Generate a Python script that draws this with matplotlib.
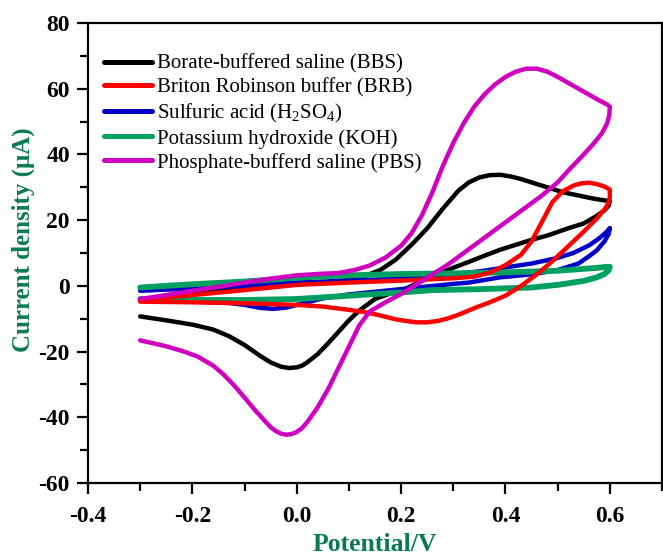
import matplotlib
matplotlib.use("Agg")
import matplotlib.pyplot as plt
from matplotlib.ticker import MultipleLocator, FixedLocator

plt.rcParams['font.family'] = ['Liberation Serif', 'DejaVu Serif']
plt.rcParams['mathtext.fontset'] = 'custom'
plt.rcParams['mathtext.rm'] = 'Liberation Serif'
plt.rcParams['mathtext.it'] = 'Liberation Serif:italic'
plt.rcParams['mathtext.bf'] = 'Liberation Serif:bold'
plt.rcParams['axes.unicode_minus'] = False

# ---------------- data (potential V, current µA) ----------------
labels = ["Borate-buffered saline (BBS)",
          "Briton Robinson buffer (BRB)",
          "Sulfuric acid (H$_2$SO$_4$)",
          "Potassium hydroxide (KOH)",
          "Phosphate-bufferd saline (PBS)"]
colors = ["#000000", "#ff0000", "#0000c8", "#00a060", "#d000c0"]

bbs_fx = [-0.30, -0.25, -0.20, -0.15, -0.10, -0.05, 0.00, 0.05, 0.10, 0.13, 0.16, 0.19, 0.22, 0.25, 0.28, 0.31, 0.33, 0.35, 0.37, 0.39, 0.41, 0.43, 0.45, 0.48, 0.51, 0.54, 0.57, 0.60]
bbs_fy = [-4.5, -3.5, -2.5, -1.6, -0.8, 0.0, 0.6, 1.0, 1.8, 3.0, 4.8, 8.0, 12.5, 17.5, 23.5, 29.0, 31.5, 33.0, 33.7, 33.8, 33.3, 32.5, 31.5, 30.0, 28.5, 27.5, 26.5, 25.8]
bbs_rx = [0.60, 0.598, 0.59, 0.575, 0.55, 0.52, 0.48, 0.45, 0.42, 0.39, 0.36, 0.33, 0.30, 0.27, 0.24, 0.21, 0.18, 0.15, 0.12, 0.10, 0.08, 0.06, 0.04, 0.02, 0.01, 0.00, -0.015, -0.03, -0.05, -0.07, -0.10, -0.13, -0.16, -0.20, -0.25, -0.30]
bbs_ry = [25.8, 24.5, 23.0, 21.3, 19.0, 17.5, 15.3, 14.0, 12.5, 11.0, 9.2, 7.3, 5.5, 3.5, 1.5, -0.8, -2.3, -4.0, -7.5, -10.5, -14.0, -17.5, -20.8, -23.3, -24.3, -24.8, -25.0, -24.6, -23.3, -21.3, -18.0, -15.3, -13.3, -11.8, -10.5, -9.3]

brb_fx = [-0.30, -0.20, -0.10, 0.00, 0.10, 0.20, 0.30, 0.34, 0.37, 0.40, 0.43, 0.45, 0.47, 0.49, 0.51, 0.53, 0.545, 0.56, 0.575, 0.59, 0.60]
brb_fy = [-4.3, -2.8, -1.3, 0.3, 1.0, 1.6, 2.3, 2.8, 4.0, 6.3, 9.5, 13.5, 19.5, 25.5, 28.8, 30.5, 31.2, 31.4, 31.0, 30.2, 29.3]
brb_rx = [0.60, 0.600, 0.597, 0.59, 0.575, 0.55, 0.52, 0.49, 0.46, 0.43, 0.40, 0.37, 0.34, 0.31, 0.29, 0.27, 0.25, 0.23, 0.21, 0.19, 0.16, 0.13, 0.10, 0.05, 0.00, -0.10, -0.20, -0.30]
brb_ry = [29.3, 27.0, 25.0, 23.3, 20.5, 16.5, 12.0, 7.5, 3.5, 0.0, -3.0, -5.0, -6.8, -8.8, -9.9, -10.7, -11.1, -11.1, -10.7, -10.2, -9.0, -8.0, -7.3, -6.3, -5.8, -5.3, -5.0, -4.8]

h2so4_fx = [-0.30, -0.20, -0.10, 0.00, 0.10, 0.20, 0.30, 0.35, 0.40, 0.45, 0.50, 0.53, 0.56, 0.58, 0.595, 0.60]
h2so4_fy = [-1.5, -0.8, 0.0, 1.0, 1.6, 2.2, 3.6, 4.4, 5.6, 6.8, 8.5, 10.0, 12.3, 14.5, 16.6, 17.6]
h2so4_rx = [0.60, 0.598, 0.59, 0.575, 0.56, 0.54, 0.50, 0.45, 0.39, 0.33, 0.30, 0.20, 0.15, 0.10, 0.05, 0.02, 0.00, -0.02, -0.045, -0.07, -0.10, -0.13, -0.20, -0.30]
h2so4_ry = [17.6, 15.8, 13.6, 10.8, 9.0, 6.8, 4.8, 3.5, 2.6, 1.0, 0.6, -1.0, -1.8, -2.6, -3.8, -5.0, -5.8, -6.6, -7.0, -6.7, -5.8, -5.2, -4.8, -4.3]

koh_fx = [-0.30, -0.20, -0.10, 0.00, 0.10, 0.20, 0.30, 0.40, 0.50, 0.57, 0.595, 0.60]
koh_fy = [-0.5, 0.5, 1.3, 2.5, 3.2, 3.6, 3.8, 4.1, 4.6, 5.4, 5.8, 5.8]
koh_rx = [0.60, 0.598, 0.59, 0.575, 0.55, 0.50, 0.45, 0.35, 0.26, 0.20, 0.10, 0.00, -0.10, -0.20, -0.30]
koh_ry = [5.8, 4.8, 3.6, 2.6, 1.5, 0.3, -0.5, -1.0, -1.3, -2.0, -3.0, -4.0, -4.3, -4.3, -4.0]

pbs_fx = [-0.30, -0.25, -0.20, -0.15, -0.10, -0.05, 0.00, 0.05, 0.08, 0.11, 0.14, 0.17, 0.20, 0.22, 0.24, 0.26, 0.28, 0.30, 0.32, 0.34, 0.36, 0.38, 0.40, 0.42, 0.44, 0.46, 0.48, 0.50, 0.52, 0.54, 0.56, 0.58, 0.595, 0.60]
pbs_fy = [-4.0, -2.8, -1.5, -0.3, 1.0, 2.2, 3.2, 3.7, 3.9, 4.8, 6.2, 8.6, 12.2, 16.0, 21.5, 28.5, 36.5, 43.5, 49.5, 54.5, 58.3, 61.3, 63.6, 65.2, 66.1, 66.1, 65.2, 63.6, 61.8, 60.0, 58.2, 56.4, 55.2, 54.5]
pbs_rx = [0.60, 0.599, 0.595, 0.585, 0.57, 0.55, 0.52, 0.50, 0.47, 0.44, 0.41, 0.38, 0.35, 0.32, 0.29, 0.26, 0.23, 0.20, 0.17, 0.14, 0.12, 0.10, 0.08, 0.06, 0.04, 0.02, 0.01, 0.00, -0.01, -0.02, -0.03, -0.04, -0.05, -0.06, -0.08, -0.10, -0.12, -0.14, -0.16, -0.19, -0.22, -0.25, -0.28, -0.30]
pbs_ry = [54.5, 52.0, 49.5, 46.5, 43.5, 40.0, 35.0, 31.5, 27.5, 24.0, 20.5, 17.0, 13.5, 10.0, 6.5, 3.5, 0.5, -2.5, -5.0, -7.8, -12.0, -18.5, -25.0, -31.5, -37.0, -41.5, -43.3, -44.5, -45.1, -45.3, -45.0, -44.2, -43.0, -41.3, -37.8, -34.0, -30.3, -27.0, -24.3, -21.5, -19.8, -18.4, -17.3, -16.6]

x_ticks = [-0.4, -0.2, 0.0, 0.2, 0.4, 0.6]
x_ticklabels = ["-0.4", "-0.2", "0.0", "0.2", "0.4", "0.6"]
y_ticks = [-60, -40, -20, 0, 20, 40, 60, 80]
y_ticklabels = ["-60", "-40", "-20", "0", "20", "40", "60", "80"]

series = [(bbs_fx + bbs_rx, bbs_fy + bbs_ry),
          (brb_fx + brb_rx, brb_fy + brb_ry),
          (h2so4_fx + h2so4_rx, h2so4_fy + h2so4_ry),
          (koh_fx + koh_rx, koh_fy + koh_ry),
          (pbs_fx + pbs_rx, pbs_fy + pbs_ry)]
widths = [3.2, 3.2, 3.2, 4.2, 3.2]
zorders = [2, 4, 2.5, 3, 5]

label_green = "#0b7a50"

fig = plt.figure(figsize=(6.63, 5.59), dpi=100)
ax = fig.add_axes([88/663, 1 - 483/559, 574/663, 460/559])

handles = []
for (xs, ys), lab, c, lw, z in zip(series, labels, colors, widths, zorders):
    h, = ax.plot(xs, ys, color=c, lw=lw, label=lab, zorder=z,
                 solid_capstyle='round', solid_joinstyle='round')
    handles.append(h)

ax.set_xlim(-0.4, 0.7)
ax.set_ylim(-60, 80)
ax.xaxis.set_major_locator(FixedLocator(x_ticks))
ax.set_xticklabels(x_ticklabels)
ax.yaxis.set_major_locator(FixedLocator(y_ticks))
ax.set_yticklabels(y_ticklabels)
ax.xaxis.set_minor_locator(MultipleLocator(0.1))
ax.yaxis.set_minor_locator(MultipleLocator(10))

for s in ax.spines.values():
    s.set_linewidth(1.6)
ax.tick_params(which='major', direction='out', length=8, width=1.6,
               labelsize=17, top=False, right=False)
ax.tick_params(axis='x', which='major', pad=8.5)
ax.tick_params(axis='y', which='major', pad=5)
ax.tick_params(which='minor', direction='out', length=5.5, width=1.6,
               top=False, right=False)
for t in ax.get_xticklabels() + ax.get_yticklabels():
    t.set_fontweight('bold')

ax.set_xlabel("Potential/V", fontsize=18.5, fontweight='bold', color=label_green)
ax.set_ylabel("Current density (μA)", fontsize=18, fontweight='bold', color=label_green)
ax.xaxis.set_label_coords(0.5, -0.108)
ax.yaxis.set_label_coords(-0.092, 0.53)

leg = ax.legend(handles=handles, loc='upper left', bbox_to_anchor=(0.028, 0.932),
                frameon=False, fontsize=15, handlelength=2.3, handletextpad=0.25,
                labelspacing=0.2, borderpad=0, borderaxespad=0)
for lh in leg.get_lines():
    lh.set_linewidth(3.6)

fig.savefig("out.png", dpi=100)
